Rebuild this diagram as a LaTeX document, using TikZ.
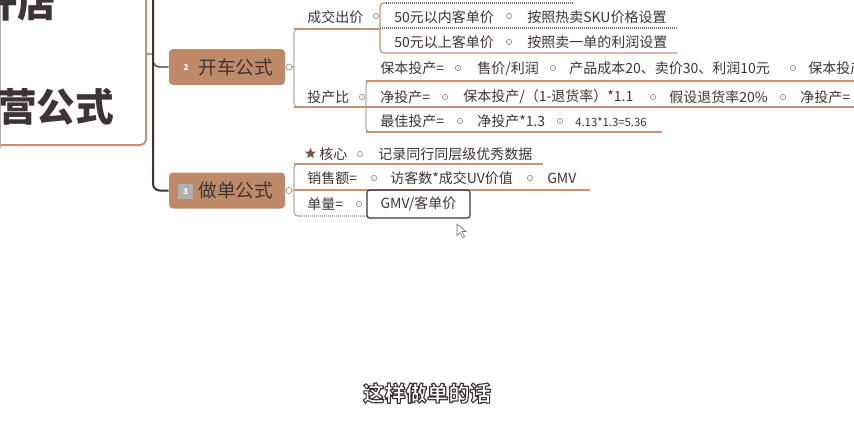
\documentclass[tikz,border=0pt]{standalone}
\usepackage{fontspec}
\setmainfont{Noto Sans CJK SC}
\usetikzlibrary{positioning, calc, shapes.geometric}
\definecolor{topicbrown}{RGB}{190,138,106}
\definecolor{inkdark}{RGB}{62,52,52}
\definecolor{linegray}{RGB}{176,176,176}
\definecolor{linebrown}{RGB}{196,146,116}
\definecolor{knobgray}{RGB}{150,138,132}
\newcommand{\outlinetext}[1]{\special{pdf:code q 2 Tr 0.85 w 1 j 0.24 0.2 0.2 RG 1 g}#1\special{pdf:code Q}}
\begin{document}
\begin{tikzpicture}[
  x=0.75pt, y=-0.75pt,
  font=\fontsize{10.5}{12}\selectfont,
  every node/.append style={text=inkdark},
  rootbox/.style={draw=linebrown, line width=1.5pt, fill=white, rounded corners=4pt, inner sep=0pt},
  roottext/.style={anchor=west, inner sep=0pt, font=\fontsize{29}{32}\selectfont\bfseries},
  topic/.style={
    fill=topicbrown, rounded corners=3pt, minimum width=87pt, minimum height=27pt,
    inner xsep=9pt, text width=69pt, align=right, font=\fontsize{14}{16}\selectfont
  },
  badge/.style={inner sep=0.8pt, font=\fontsize{6}{6}\selectfont\bfseries, text=white},
  leaf/.style={anchor=west, inner sep=0pt},
  knob/.style={circle, draw=knobgray, fill=white, line width=0.5pt, inner sep=0pt, minimum size=4.5pt},
  midknob/.style={
    circle, draw=knobgray, line width=0.45pt, inner sep=0pt, minimum size=4pt,
    path picture={\fill[knobgray] (path picture bounding box.center) circle (0.55pt);}
  },
  trunk/.style={draw=inkdark, line width=1.5pt, rounded corners=5pt},
  bracket/.style={draw=linegray, line width=0.9pt, rounded corners=3pt},
  uline/.style={draw=linebrown, line width=0.9pt},
  dline/.style={draw=inkdark!70, line width=0.8pt, dash pattern=on 0.75pt off 0.75pt}
]
\useasboundingbox (0,0) rectangle (854,440);
\fill[white] (0,0) rectangle (854,440);
\clip (0,0) rectangle (854,440);

\node[rootbox, minimum width=117pt, minimum height=116.25pt] (root) at (68,67.5) {};
\draw[linegray, line width=0.6pt] (0.5,0) -- (0.5,148);
\node[roottext] (rootup) at (-21,3) {开店};
\node[roottext] (rootlow) at (-2,107) {营公式};
\draw[uline, line width=1.2pt] (146,54) -- (153,54);

\node[topic] (kc) at (227,67) {开车公式};
\node[topic] (zd) at (227,190.5) {做单公式};
\node[badge] (kcnum) at (186,68) {2};
\node[badge, fill=linegray, minimum size=11pt] (zdnum) at (185.5,191.5) {3};

\draw[trunk] (153,0) |- (zd.west);
\draw[trunk, line width=1pt] (153,58) |- (kc.west);

\draw[bracket] (300,29) -| (294,107) -- (300,107);
\draw[bracket] (372,81) -| (366,132) -- (372,132);
\draw[bracket] (300,164) -| (294,216) -- (300,216);
\draw[uline, rounded corners=3pt] (386,3) -| (380,53) -- (677,53);
\draw[dline] (386,3) -- (573,3);

\draw[uline] (294,29) -- (380,29);
\draw[dline] (380,28) -- (677,28);
\draw[uline] (366,81) -- (854,81);
\draw[uline] (294,107) -- (854,107);
\draw[uline] (366,132) -- (662,132);
\draw[uline] (294,164) -- (543,164);
\draw[uline] (294,190) -- (590,190);
\draw[dline, draw=linegray!80!linebrown] (300,216) -- (367,216);

\node[knob] (kcknob) at (289,67) {};
\node[knob] (zdknob) at (289,190.5) {};
\draw[bracket, rounded corners=0pt] (kcknob) -- (294,67);
\draw[bracket, rounded corners=0pt] (zdknob) -- (294,190.5);

\node[leaf] (cj) at (307,17.5) {成交出价};
\node[midknob] (cjk) at (376,16) {};
\node[leaf] (cja) at (394,17.5) {50元以内客单价};
\node[midknob] (cjak) at (509,16) {};
\node[leaf] (cjaa) at (527,17.5) {按照热卖SKU价格设置};
\node[leaf] (cjb) at (394,42.5) {50元以上客单价};
\node[midknob] (cjbk) at (509,42) {};
\node[leaf] (cjbb) at (527,42.5) {按照卖一单的利润设置};

\node[leaf] (tc) at (307,97) {投产比};
\node[midknob] (tck) at (362,97) {};
\node[leaf] (tca) at (380,68.5) {保本投产=};
\node[midknob] at (458,68) {};
\node[leaf] (tcaa) at (477,68.5) {售价/利润};
\node[midknob] at (553,68) {};
\node[leaf] (tcab) at (569,68.5) {产品成本20、卖价30、利润10元};
\node[midknob] at (793,68) {};
\node[leaf] (tcac) at (808,68.5) {保本投产=};
\node[leaf] (tcb) at (380,97) {净投产=};
\node[midknob] at (445,97) {};
\node[leaf] (tcba) at (463,97) {保本投产/（1-退货率）*1.1};
\node[midknob] at (653,97) {};
\node[leaf] (tcbb) at (669,97) {假设退货率20\%};
\node[midknob] at (783,97) {};
\node[leaf] (tcbc) at (800,97) {净投产=};
\node[leaf] (tcc) at (380,121.5) {最佳投产=};
\node[midknob] at (460,121) {};
\node[leaf] (tcca) at (477,121.5) {净投产*1.3};
\node[midknob] at (560,121) {};
\node[leaf, font=\fontsize{8.5}{10}\selectfont] (tccb) at (575,122) {4.13*1.3=5.36};

\node[star, star points=5, star point ratio=2.3, fill=inkdark!60!topicbrown, minimum size=8.5pt, inner sep=0pt] (hxstar) at (310.5,153.5) {};
\node[leaf] (hx) at (319,154) {核心};
\node[midknob] at (360,154) {};
\node[leaf] (hxa) at (378,154) {记录同行同层级优秀数据};
\node[leaf] (xs) at (307,178) {销售额=};
\node[midknob] at (374,178) {};
\node[leaf] (xsa) at (390,178) {访客数*成交UV价值};
\node[midknob] at (530,178) {};
\node[leaf] (xsb) at (547,178) {GMV};
\node[leaf] (dl) at (307,204) {单量=};
\node[midknob] at (359,204) {};
\node[draw=inkdark, line width=0.9pt, rounded corners=2pt, minimum width=77.25pt, minimum height=21pt, inner sep=0pt] (dla) at (418.5,204) {GMV/客单价};

\draw[fill=white, draw=inkdark!70, line width=0.5pt] (457,224) -- (457,235.5) -- (460,232.5) -- (462.5,237.5) -- (464.5,236.5) -- (462,231.5) -- (466,231.5) -- cycle;

\node[font=\fontsize{16}{18}\selectfont\bfseries] (sub) at (427,393) {\outlinetext{这样做单的话}};
\end{tikzpicture}
\end{document}
